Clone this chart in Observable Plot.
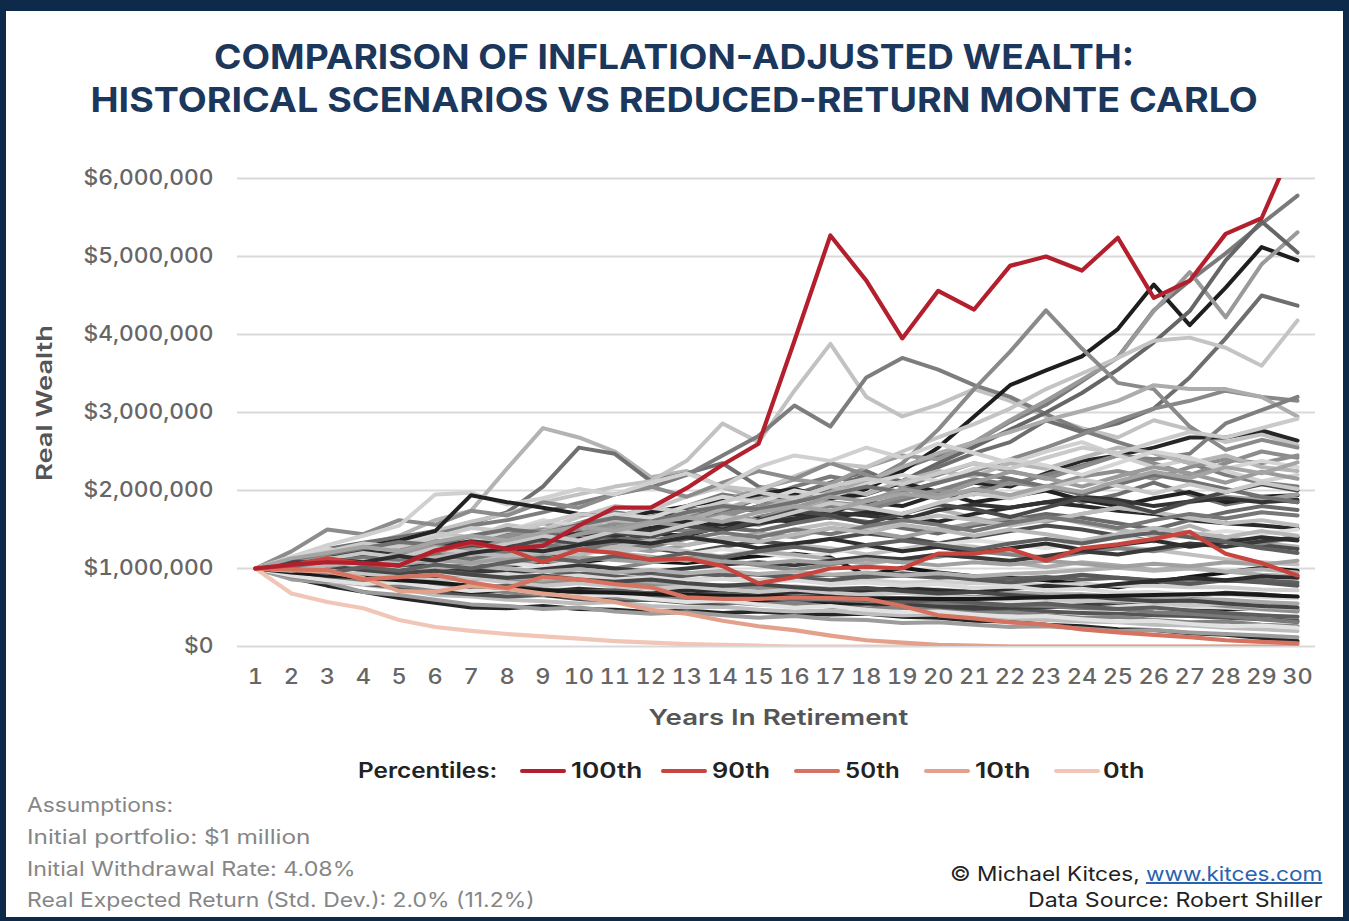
<!DOCTYPE html>
<html><head><meta charset="utf-8">
<script src="https://cdn.jsdelivr.net/npm/d3@7"></script>
<script src="https://cdn.jsdelivr.net/npm/@observablehq/plot@0.6"></script>
<style>
html,body{margin:0;padding:0;background:#fff;}
#page{position:relative;width:1349px;height:921px;overflow:hidden;background:#fff;font-family:Inter,"Open Sans",sans-serif;}
#frame{position:absolute;left:0;top:0;width:1349px;height:921px;box-sizing:border-box;border-style:solid;border-color:#0d2a4b;border-width:11px 6px 4px 6px;pointer-events:none;}
.title{position:absolute;left:0;width:1349px;text-align:center;font-size:34px;line-height:40px;font-weight:700;color:#1b375c;white-space:nowrap;}
.fit{display:inline-block;white-space:nowrap;}
#chart{position:absolute;left:0;top:150px;}
.ylab{position:absolute;left:45px;top:403px;transform:translate(-50%,-50%) rotate(-90deg);font-size:21px;font-weight:600;color:#555;white-space:nowrap;line-height:26px;}
.xlab{position:absolute;left:0;width:1556px;top:704px;text-align:center;font-size:22px;font-weight:600;color:#555;white-space:nowrap;line-height:26px;}
.lg{position:absolute;top:771px;transform:translateY(-50%);font-size:21px;font-weight:600;color:#222;white-space:nowrap;line-height:28px;}
.sw{position:absolute;top:769px;height:4px;width:46px;border-radius:2px;}
.note{position:absolute;left:27px;font-size:20px;line-height:26px;color:#868686;white-space:nowrap;}
.credit{position:absolute;right:27px;font-size:20px;line-height:26px;color:#222;text-align:right;white-space:nowrap;}
.credit a{color:#2a62b0;text-decoration:underline;}
</style>
</head><body>
<div id="page">
  <div class="title" style="top:37px"><span class="fit" data-w="920" data-o="center">COMPARISON OF INFLATION-ADJUSTED WEALTH:</span></div>
  <div class="title" style="top:80px"><span class="fit" data-w="1167" data-o="center">HISTORICAL SCENARIOS VS REDUCED-RETURN MONTE CARLO</span></div>
  <div id="chart"></div>
  <div class="ylab"><span class="fit" data-w="156" data-o="center">Real Wealth</span></div>
  <div class="xlab"><span class="fit" data-w="260" data-o="center">Years In Retirement</span></div>
  <div id="legend"></div>
  <div class="note" style="top:792px"><span class="fit" data-w="146" data-o="left">Assumptions:</span></div>
  <div class="note" style="top:824px"><span class="fit" data-w="283" data-o="left">Initial portfolio: $1 million</span></div>
  <div class="note" style="top:856px"><span class="fit" data-w="329" data-o="left">Initial Withdrawal Rate: 4.08%</span></div>
  <div class="note" style="top:887px"><span class="fit" data-w="508" data-o="left">Real Expected Return (Std. Dev.): 2.0% (11.2%)</span></div>
  <div class="credit" style="top:861px"><span class="fit" data-w="372" data-o="right">© Michael Kitces, <a>www.kitces.com</a></span></div>
  <div class="credit" style="top:887px"><span class="fit" data-w="294" data-o="right">Data Source: Robert Shiller</span></div>
  <div id="frame"></div>
</div>
<script>
// ---------- DATA (values in $ millions) ----------
const years = [1,2,3,4,5,6,7,8,9,10,11,12,13,14,15,16,17,18,19,20,21,22,23,24,25,26,27,28,29,30];
const yTicks = [0,1000000,2000000,3000000,4000000,5000000,6000000];

const percentileNames = ["100th","90th","50th","10th","0th"];
const p100 = [1.00,1.05,1.08,1.07,1.04,1.23,1.34,1.25,1.29,1.55,1.78,1.78,2.03,2.33,2.60,3.92,5.27,4.69,3.95,4.56,4.32,4.88,5.00,4.82,5.24,4.47,4.69,5.29,5.49,6.54];
const p90  = [1.00,1.04,1.13,1.06,1.04,1.22,1.32,1.25,1.08,1.24,1.20,1.11,1.13,1.03,0.81,0.89,1.00,1.02,1.00,1.19,1.19,1.25,1.10,1.26,1.31,1.38,1.47,1.19,1.07,0.91];
const p50  = [1.00,0.99,0.98,0.86,0.89,0.92,0.82,0.75,0.89,0.86,0.80,0.76,0.63,0.61,0.61,0.63,0.62,0.61,0.52,0.40,0.36,0.31,0.28,0.22,0.18,0.15,0.12,0.08,0.06,0.04];
const p10  = [1.00,0.98,0.96,0.88,0.71,0.70,0.78,0.74,0.68,0.63,0.57,0.47,0.42,0.33,0.26,0.21,0.14,0.08,0.05,0.02,0.01,0.00,0.00,0.00,0.00,0.00,0.00,0.00,0.00,0.00];
const p0   = [1.00,0.68,0.57,0.49,0.34,0.25,0.20,0.16,0.13,0.10,0.07,0.05,0.03,0.02,0.01,0.00,0.00,0.00,0.00,0.00,0.00,0.00,0.00,0.00,0.00,0.00,0.00,0.00,0.00,0.00];

const grayPaths = [
  [1.00,1.10,1.22,1.30,1.42,1.62,1.74,2.28,2.80,2.68,2.50,2.17,2.25,2.04,1.90,1.76,1.86,1.70,1.62,1.76,1.65,1.55,1.68,1.58,1.50,1.42,1.55,1.40,1.33,1.28],
  [1.00,1.12,1.25,1.33,1.40,1.48,1.58,1.72,2.05,2.55,2.47,2.12,2.22,2.35,2.05,1.95,2.10,2.25,2.05,1.92,2.00,2.15,2.02,1.85,1.95,2.10,1.95,1.82,1.90,1.85],
  [1.00,1.08,1.18,1.28,1.36,1.48,1.60,1.70,1.85,1.95,2.05,2.12,2.38,2.86,2.62,3.28,3.88,3.20,2.95,3.10,3.30,3.15,2.95,2.80,2.68,2.90,2.78,2.62,2.72,2.58],
  [1.00,1.10,1.20,1.26,1.35,1.44,1.55,1.62,1.72,1.84,1.95,2.04,2.20,2.45,2.70,3.09,2.82,3.45,3.70,3.55,3.35,3.20,2.98,2.77,2.62,2.48,2.35,2.20,2.10,2.05],
  [1.00,1.12,1.08,1.20,1.34,1.30,1.38,1.52,1.45,1.58,1.72,1.65,1.80,1.95,1.88,2.05,2.18,2.10,2.28,2.45,2.62,2.88,3.10,3.40,3.71,4.31,4.69,5.04,5.42,5.78],
  [1.00,1.04,1.15,1.22,1.18,1.26,1.38,1.35,1.42,1.56,1.52,1.60,1.74,1.68,1.80,1.95,1.90,2.02,2.25,2.55,2.95,3.35,3.54,3.72,4.07,4.64,4.12,4.60,5.12,4.95],
  [1.00,1.08,1.02,1.15,1.28,1.36,1.30,1.45,1.58,1.52,1.66,1.78,1.70,1.86,2.02,2.14,2.08,2.30,2.45,2.40,2.62,2.90,3.15,3.42,3.70,4.30,4.80,4.22,4.90,5.31],
  [1.00,1.10,1.18,1.12,1.25,1.22,1.35,1.44,1.40,1.55,1.50,1.66,1.78,1.72,1.90,1.85,2.02,2.20,2.12,2.35,2.56,2.78,3.00,3.25,3.55,3.90,4.30,4.95,5.45,5.05],
  [1.00,0.98,1.08,1.16,1.12,1.25,1.20,1.34,1.46,1.42,1.55,1.50,1.64,1.78,1.74,1.86,2.00,1.95,2.12,2.30,2.48,2.62,2.90,2.75,2.86,3.05,3.45,3.95,4.50,4.37],
  [1.00,1.14,1.25,1.18,1.34,1.46,1.40,1.56,1.50,1.66,1.80,1.75,1.92,2.05,2.00,2.18,2.35,2.30,2.50,2.68,2.85,3.05,3.30,3.50,3.70,3.92,3.96,3.83,3.60,4.18],
  [1.00,1.06,1.02,1.12,1.20,1.16,1.28,1.40,1.36,1.48,1.45,1.58,1.70,1.66,1.80,1.92,1.88,2.10,2.35,2.78,3.30,3.78,4.31,3.82,3.38,3.30,2.82,2.52,2.65,2.55],
  [1.00,1.02,1.10,1.06,1.16,1.24,1.20,1.30,1.26,1.38,1.48,1.44,1.56,1.52,1.66,1.76,1.72,1.88,1.98,2.10,2.25,2.40,2.55,2.72,2.90,3.05,3.15,3.28,3.20,3.15],
  [1.00,1.11,1.05,1.18,1.30,1.25,1.38,1.32,1.46,1.58,1.52,1.66,1.62,1.76,1.90,1.84,1.98,2.12,2.30,2.48,2.62,2.75,2.90,3.02,3.15,3.35,3.30,3.30,3.20,2.95],
  [1.00,1.05,1.00,1.08,1.16,1.12,1.22,1.18,1.30,1.38,1.34,1.45,1.42,1.54,1.64,1.60,1.72,1.85,1.80,1.95,2.10,2.05,2.22,2.38,2.45,2.55,2.68,2.68,2.77,2.64],
  [1.00,1.09,1.16,1.12,1.08,1.18,1.26,1.22,1.34,1.30,1.42,1.52,1.48,1.60,1.56,1.68,1.80,1.75,1.88,2.00,2.14,2.08,2.20,2.32,2.45,2.40,2.47,2.86,3.03,3.20],
  [1.00,1.22,1.50,1.44,1.62,1.56,1.74,1.68,1.85,1.78,1.95,2.05,1.92,2.10,2.25,2.15,2.35,2.20,2.05,2.20,2.35,2.25,2.15,2.30,2.45,2.35,2.20,2.35,2.50,2.42],
  [1.00,1.15,1.30,1.42,1.55,1.95,1.97,1.82,1.90,2.02,1.95,2.10,2.22,2.05,2.30,2.45,2.38,2.55,2.42,2.60,2.48,2.35,2.50,2.62,2.45,2.30,2.40,2.25,2.12,2.20],
  [1.00,1.10,1.20,1.28,1.36,1.48,1.94,1.85,1.78,1.70,1.65,1.72,1.80,1.88,1.95,2.02,1.90,1.95,2.10,1.98,1.85,1.92,2.00,1.88,1.80,1.90,1.98,1.85,1.92,1.94],
  [1.00,0.88,0.78,0.70,0.62,0.56,0.50,0.49,0.52,0.48,0.47,0.44,0.46,0.43,0.45,0.42,0.41,0.42,0.38,0.37,0.33,0.32,0.28,0.26,0.22,0.21,0.17,0.15,0.11,0.07],
  [1.00,0.86,0.82,0.70,0.66,0.60,0.54,0.52,0.48,0.50,0.45,0.42,0.44,0.40,0.37,0.39,0.35,0.34,0.30,0.31,0.28,0.25,0.26,0.23,0.20,0.21,0.18,0.16,0.14,0.12],
  [1.00,0.93,0.84,0.79,0.74,0.66,0.64,0.60,0.58,0.55,0.57,0.52,0.50,0.51,0.47,0.45,0.46,0.42,0.40,0.41,0.37,0.36,0.34,0.32,0.31,0.28,0.27,0.24,0.22,0.20],
  [1.00,0.94,0.86,0.80,0.76,0.70,0.67,0.64,0.66,0.61,0.59,0.60,0.56,0.55,0.57,0.53,0.52,0.54,0.50,0.49,0.47,0.48,0.45,0.43,0.42,0.40,0.39,0.37,0.35,0.33],
  [1.00,0.97,0.90,0.84,0.80,0.74,0.70,0.71,0.66,0.63,0.64,0.60,0.59,0.60,0.57,0.58,0.55,0.56,0.54,0.55,0.53,0.52,0.53,0.51,0.50,0.51,0.49,0.48,0.48,0.47],
  [1.00,0.98,0.92,0.89,0.84,0.82,0.78,0.77,0.73,0.74,0.70,0.69,0.67,0.68,0.65,0.64,0.62,0.63,0.61,0.59,0.58,0.59,0.56,0.55,0.53,0.54,0.51,0.50,0.47,0.45],
  [1.00,0.99,0.93,0.88,0.82,0.80,0.76,0.74,0.71,0.72,0.68,0.66,0.67,0.64,0.62,0.63,0.59,0.58,0.54,0.52,0.49,0.50,0.50,0.53,0.56,0.59,0.64,0.69,0.67,0.63],
  [1.00,1.02,0.97,0.95,0.99,1.01,1.04,1.03,1.09,1.08,1.13,1.09,1.07,1.12,1.16,1.19,1.14,0.91,1.01,0.95,0.90,0.88,0.85,0.80,0.76,0.82,0.89,0.95,1.01,0.97],
  [1.00,0.93,0.89,0.82,0.79,0.74,0.75,0.70,0.69,0.66,0.67,0.63,0.64,0.61,0.63,0.60,0.61,0.58,0.59,0.56,0.55,0.53,0.52,0.49,0.48,0.44,0.42,0.39,0.35,0.31],
  [1.00,1.01,0.97,0.95,0.91,0.90,0.86,0.87,0.83,0.84,0.80,0.81,0.78,0.79,0.76,0.77,0.74,0.75,0.72,0.73,0.70,0.70,0.67,0.67,0.64,0.64,0.61,0.60,0.57,0.55],
  [1.00,1.06,1.02,0.99,0.96,0.95,0.92,0.93,0.90,0.90,0.88,0.89,0.86,0.87,0.85,0.86,0.84,0.85,0.82,0.83,0.81,0.82,0.79,0.80,0.78,0.78,0.76,0.76,0.73,0.72],
  [1.00,1.04,1.07,1.02,1.02,0.97,0.99,0.95,0.97,0.93,0.96,0.92,0.94,0.91,0.93,0.90,0.92,0.89,0.91,0.88,0.90,0.87,0.89,0.86,0.88,0.85,0.86,0.84,0.85,0.82],
  [1.00,1.12,1.20,1.15,1.28,1.35,1.30,1.42,1.50,1.45,1.58,1.62,1.55,1.70,1.78,1.72,1.85,1.80,1.92,2.00,1.95,2.10,2.05,2.18,2.25,2.15,2.30,2.40,2.35,2.45],
  [1.00,1.08,1.15,1.10,1.18,1.25,1.22,1.32,1.38,1.45,1.40,1.52,1.60,1.55,1.62,1.70,1.65,1.72,1.68,1.60,1.70,1.78,1.85,1.80,1.74,1.70,1.62,1.58,1.55,1.51],
  [1.00,1.10,1.05,1.18,1.22,1.30,1.40,1.35,1.48,1.55,1.62,1.58,1.70,1.82,1.75,1.90,2.05,1.95,2.12,2.25,2.18,2.35,2.28,2.42,2.55,2.48,2.35,2.45,2.30,2.25],
  [1.00,1.06,1.12,1.20,1.16,1.24,1.32,1.28,1.36,1.44,1.40,1.35,1.45,1.52,1.48,1.58,1.66,1.60,1.52,1.45,1.55,1.62,1.70,1.65,1.58,1.50,1.62,1.72,1.80,1.75],
  [1.00,1.14,1.25,1.18,1.30,1.42,1.35,1.48,1.62,1.55,1.70,1.65,1.80,1.92,1.85,2.00,1.92,2.08,2.20,2.12,2.28,2.40,2.32,2.20,2.35,2.50,2.42,2.28,2.38,2.30],
  [1.00,1.03,1.10,1.05,1.12,1.08,1.15,1.20,1.16,1.24,1.30,1.26,1.20,1.28,1.35,1.30,1.38,1.45,1.40,1.32,1.40,1.48,1.55,1.50,1.42,1.35,1.45,1.38,1.30,1.25],
  [1.00,1.09,1.02,1.12,1.20,1.14,1.08,1.18,1.25,1.32,1.28,1.22,1.30,1.38,1.45,1.40,1.52,1.48,1.40,1.50,1.58,1.65,1.60,1.70,1.78,1.72,1.85,1.92,1.88,1.95],
  [1.00,1.04,0.98,1.06,1.12,1.08,1.16,1.10,1.18,1.25,1.20,1.28,1.22,1.15,1.22,1.30,1.26,1.18,1.25,1.32,1.28,1.20,1.14,1.22,1.28,1.24,1.18,1.12,1.08,1.05],
  [1.00,1.07,1.14,1.22,1.18,1.28,1.35,1.30,1.38,1.45,1.42,1.48,1.55,1.50,1.58,1.64,1.72,1.68,1.62,1.75,1.82,1.78,1.85,1.92,1.88,1.80,1.86,1.90,1.85,1.88],
  [1.00,0.98,1.05,1.00,1.08,1.02,0.96,1.04,1.10,1.06,1.00,1.08,1.14,1.10,1.04,0.98,1.05,1.12,1.08,1.15,1.22,1.18,1.12,1.20,1.26,1.22,1.30,1.36,1.32,1.40],
  [1.00,1.02,1.08,1.04,0.98,1.05,1.12,1.08,1.02,1.10,1.16,1.12,1.18,1.25,1.20,1.14,1.20,1.28,1.22,1.30,1.36,1.32,1.26,1.34,1.40,1.35,1.42,1.48,1.44,1.50],
  [1.00,0.96,0.92,0.98,0.94,0.90,0.95,0.92,0.88,0.93,0.90,0.86,0.91,0.96,0.92,0.88,0.85,0.90,0.94,0.90,0.86,0.82,0.87,0.92,0.88,0.84,0.80,0.85,0.82,0.78],
  [1.00,1.05,1.10,1.06,1.14,1.20,1.16,1.10,1.18,1.24,1.20,1.15,1.10,1.16,1.22,1.18,1.12,1.06,1.12,1.18,1.14,1.08,1.02,1.08,1.04,0.98,1.02,0.96,0.92,0.90],
  [1.00,1.02,0.96,1.00,1.06,1.02,0.98,0.94,0.99,1.04,1.00,0.96,1.00,1.05,1.08,1.04,1.10,1.15,1.12,1.18,1.14,1.10,1.16,1.22,1.18,1.25,1.32,1.28,1.35,1.40],
  [1.00,1.12,1.22,1.32,1.28,1.40,1.52,1.48,1.58,1.70,1.65,1.78,1.72,1.85,1.98,1.90,2.05,2.15,2.08,2.22,2.35,2.28,2.42,2.55,2.48,2.62,2.75,2.68,2.80,2.92],
  [1.00,1.10,1.18,1.26,1.34,1.30,1.42,1.50,1.46,1.56,1.65,1.60,1.72,1.80,1.76,1.85,1.95,2.05,1.98,2.10,2.22,2.15,2.05,1.95,2.08,2.20,2.12,2.02,1.92,1.85],
  [1.00,0.95,1.02,0.98,1.05,1.12,1.08,1.15,1.22,1.18,1.25,1.32,1.40,1.35,1.42,1.50,1.58,1.52,1.60,1.68,1.62,1.55,1.62,1.70,1.78,1.72,1.65,1.58,1.62,1.55],
  [1.00,0.94,0.98,0.90,0.86,0.92,0.88,0.84,0.80,0.85,0.82,0.78,0.74,0.78,0.75,0.71,0.68,0.72,0.70,0.66,0.63,0.67,0.64,0.60,0.57,0.60,0.56,0.52,0.48,0.45],
  [1.00,0.92,0.86,0.82,0.78,0.82,0.76,0.72,0.70,0.74,0.71,0.68,0.72,0.69,0.66,0.70,0.68,0.72,0.75,0.72,0.70,0.74,0.78,0.75,0.80,0.84,0.88,0.85,0.90,0.88],
  [1.00,0.97,0.90,0.94,0.88,0.84,0.88,0.82,0.78,0.81,0.77,0.74,0.77,0.73,0.70,0.73,0.69,0.66,0.69,0.65,0.62,0.65,0.61,0.58,0.60,0.56,0.53,0.55,0.51,0.49],
  [1.00,0.95,0.89,0.84,0.86,0.80,0.75,0.78,0.73,0.70,0.72,0.68,0.65,0.68,0.64,0.61,0.64,0.60,0.57,0.60,0.56,0.53,0.55,0.51,0.48,0.50,0.46,0.43,0.40,0.38],
  [1.00,1.01,0.95,0.99,0.93,0.96,0.90,0.93,0.88,0.91,0.86,0.89,0.84,0.87,0.82,0.85,0.80,0.82,0.78,0.80,0.75,0.77,0.72,0.74,0.69,0.70,0.66,0.67,0.63,0.62],
  [1.00,0.90,0.84,0.86,0.78,0.74,0.77,0.70,0.66,0.69,0.63,0.60,0.62,0.57,0.54,0.56,0.51,0.48,0.50,0.46,0.43,0.44,0.40,0.37,0.38,0.34,0.31,0.32,0.28,0.26],
  [1.00,1.03,0.99,1.02,0.97,1.00,1.04,1.00,0.96,0.99,0.95,0.98,0.94,0.97,0.93,0.96,0.92,0.95,0.91,0.94,0.90,0.93,0.95,0.98,1.01,0.97,1.00,0.96,0.99,0.95],
  [1.00,0.99,1.03,0.98,0.94,0.97,0.92,0.88,0.91,0.86,0.83,0.86,0.81,0.78,0.80,0.76,0.73,0.75,0.71,0.68,0.70,0.66,0.63,0.65,0.61,0.58,0.59,0.55,0.52,0.50],
  [1.00,0.91,0.85,0.80,0.82,0.76,0.71,0.74,0.68,0.64,0.66,0.61,0.57,0.59,0.54,0.50,0.52,0.47,0.44,0.45,0.41,0.38,0.39,0.35,0.32,0.33,0.29,0.26,0.27,0.24],
  [1.00,1.07,1.03,1.09,1.05,1.11,1.07,1.13,1.09,1.15,1.11,1.08,1.13,1.09,1.06,1.10,1.07,1.12,1.08,1.04,1.08,1.05,1.10,1.06,1.02,1.06,1.03,1.08,1.05,1.10],
  [1.00,0.95,0.91,0.88,0.85,0.82,0.78,0.75,0.72,0.70,0.69,0.67,0.66,0.65,0.64,0.64,0.63,0.62,0.62,0.61,0.61,0.62,0.63,0.64,0.65,0.66,0.67,0.68,0.66,0.64],
  [1.00,1.06,1.14,1.08,1.20,1.28,1.24,1.36,1.30,1.44,1.52,1.60,1.54,1.68,1.62,1.78,1.92,1.86,2.02,1.94,2.10,2.24,2.16,2.05,2.18,2.30,2.22,2.10,2.24,2.15],
  [1.00,1.10,1.04,1.16,1.10,1.22,1.30,1.26,1.38,1.32,1.46,1.40,1.55,1.48,1.62,1.74,1.68,1.58,1.70,1.82,1.76,1.66,1.78,1.90,1.84,1.72,1.86,1.98,2.08,2.00],
  [1.00,1.04,1.12,1.20,1.14,1.26,1.20,1.32,1.42,1.36,1.48,1.44,1.56,1.66,1.60,1.72,1.84,1.78,1.70,1.84,1.96,1.90,2.02,2.14,2.06,1.96,2.08,1.98,2.10,2.02],
  [1.00,1.02,1.08,1.14,1.10,1.18,1.12,1.22,1.30,1.24,1.34,1.28,1.38,1.46,1.40,1.50,1.44,1.54,1.62,1.56,1.48,1.58,1.66,1.60,1.52,1.62,1.70,1.64,1.72,1.68],
  [1.00,0.97,1.04,1.10,1.06,1.14,1.20,1.16,1.24,1.18,1.28,1.36,1.30,1.40,1.34,1.44,1.52,1.46,1.56,1.50,1.42,1.50,1.44,1.36,1.44,1.52,1.46,1.40,1.48,1.42],
  [1.00,1.05,1.12,1.08,1.16,1.10,1.20,1.26,1.22,1.30,1.36,1.32,1.40,1.34,1.26,1.32,1.38,1.30,1.22,1.28,1.20,1.26,1.32,1.24,1.30,1.36,1.28,1.34,1.40,1.36],
  [1.00,1.13,1.20,1.28,1.22,1.34,1.42,1.36,1.46,1.54,1.48,1.58,1.66,1.60,1.72,1.80,1.74,1.86,1.96,1.90,2.02,1.94,2.06,1.98,2.12,2.24,2.16,2.30,2.22,2.36],
  [1.00,1.00,0.94,1.02,0.97,1.05,1.00,1.08,1.14,1.09,1.16,1.12,1.20,1.14,1.22,1.28,1.22,1.30,1.36,1.30,1.24,1.32,1.38,1.32,1.40,1.46,1.40,1.34,1.26,1.20]
];

// ---------- STYLES ----------
const grayShades = ["#b3b3b3","#707070","#c2c2c2","#7d7d7d","#7a7a7a","#1e1e1e","#9a9a9a","#666666","#6e6e6e","#c4c4c4","#8a8a8a","#888888","#acacac","#262626","#7f7f7f","#8c8c8c","#d0d0d0","#222222",
  "#262626","#9c9c9c","#bdbdbd","#555555","#1f1f1f","#dcdcdc","#404040","#151515","#7a7a7a","#a8a8a8","#cfcfcf","#606060",
  "#8f8f8f","#2a2a2a","#b5b5b5","#6a6a6a","#d5d5d5","#4d4d4d","#9e9e9e","#c0c0c0","#333333","#858585","#e0e0e0","#5a5a5a","#acacac","#3a3a3a","#cacaca","#717171","#bdbdbd",
  "#909090","#2d2d2d","#c6c6c6","#5e5e5e","#dadada","#838383","#b0b0b0","#474747","#e2e2e2","#a0a0a0","#1a1a1a",
  "#9a9a9a","#4a4a4a","#c8c8c8","#777777","#b8b8b8","#2e2e2e","#a4a4a4","#606060"];
const percentileColors = ["#b41f2e","#c8443c","#d57260","#e3a08b","#f1c6b7"];

// ---------- BUILD ----------
const M = 1000000;
const grayRows = grayPaths.flatMap((vals, i) => vals.map((v, j) => ({series: i, year: years[j], value: v * M, shade: grayShades[i % grayShades.length]})));
const pctSeries = [p100, p90, p50, p10, p0];
const pctRows = pctSeries.flatMap((vals, i) => vals.map((v, j) => ({name: percentileNames[i], year: years[j], value: v * M})));

const pctMarks = [4,3,2,1,0].map(i => Plot.line(pctRows.filter(d => d.name === percentileNames[i]), {
  x: "year", y: "value", stroke: percentileColors[i], strokeWidth: 4.2, clip: true
}));

const chart = Plot.plot({
  width: 1349, height: 580,
  marginLeft: 237, marginRight: 34, marginTop: 28, marginBottom: 84,
  style: {fontFamily: "Inter, 'Open Sans', sans-serif", background: "transparent", overflow: "visible"},
  x: {domain: [0.5, 30.5]},
  y: {domain: [0, 6 * M]},
  color: {type: "identity"},
  marks: [
    Plot.gridY(yTicks, {stroke: "#d9d9d9", strokeOpacity: 1, strokeWidth: 2}),
    Plot.axisY(yTicks, {tickSize: 0, tickPadding: 24, tickFormat: d3.format("$,.0f"), fontSize: 21, fontWeight: 500, color: "#666", label: null}),
    Plot.axisX(years, {tickSize: 0, tickPadding: 23, tickFormat: d => String(d), fontSize: 21, fontWeight: 500, color: "#666", label: null}),
    Plot.line(grayRows, {x: "year", y: "value", z: "series", stroke: "shade", strokeWidth: 4, clip: true}),
    ...pctMarks
  ]
});
document.getElementById("chart").appendChild(chart);

// stretch axis tick labels horizontally (reference font is wider)
function stretchSvg(label, s) {
  chart.querySelectorAll(`g[aria-label="${label}"] text`).forEach(t => {
    const tr = t.getAttribute("transform") || "";
    t.setAttribute("transform", tr + ` scale(${s},1)`);
  });
}
{
  const ytexts = [...chart.querySelectorAll('g[aria-label="y-axis tick label"] text')];
  const top = ytexts.find(t => t.textContent === "$6,000,000");
  const s = top ? 130 / top.getBBox().width : 1.1;
  stretchSvg("y-axis tick label", s);
  stretchSvg("x-axis tick label", 1.12);
}

// legend
const legend = document.getElementById("legend");
const legendTitle = {t: "Percentiles:", x: 358, w: 139};
const swLeft = [520, 661, 794, 924, 1054];
const txLeft = [571, 712, 845, 975, 1103];
const txW = [71, 58, 55, 55, 42];
function addText(t, x, w) {
  const d = document.createElement("div"); d.className = "lg"; d.style.left = x + "px";
  const s = document.createElement("span"); s.className = "fit"; s.dataset.w = w; s.dataset.o = "left"; s.textContent = t;
  d.appendChild(s); legend.appendChild(d);
}
addText(legendTitle.t, legendTitle.x, legendTitle.w);
percentileNames.forEach((n, i) => {
  const s = document.createElement("div"); s.className = "sw"; s.style.left = swLeft[i] + "px"; s.style.background = percentileColors[i]; legend.appendChild(s);
  addText(n, txLeft[i], txW[i]);
});

// horizontal fitting of HTML texts to the reference widths
document.querySelectorAll(".fit").forEach(el => {
  const w = el.offsetWidth;
  const target = +el.dataset.w;
  el.style.transformOrigin = el.dataset.o === "left" ? "left center" : el.dataset.o === "right" ? "right center" : "center center";
  el.style.transform = `scaleX(${target / w})`;
});
</script>
</body></html>
